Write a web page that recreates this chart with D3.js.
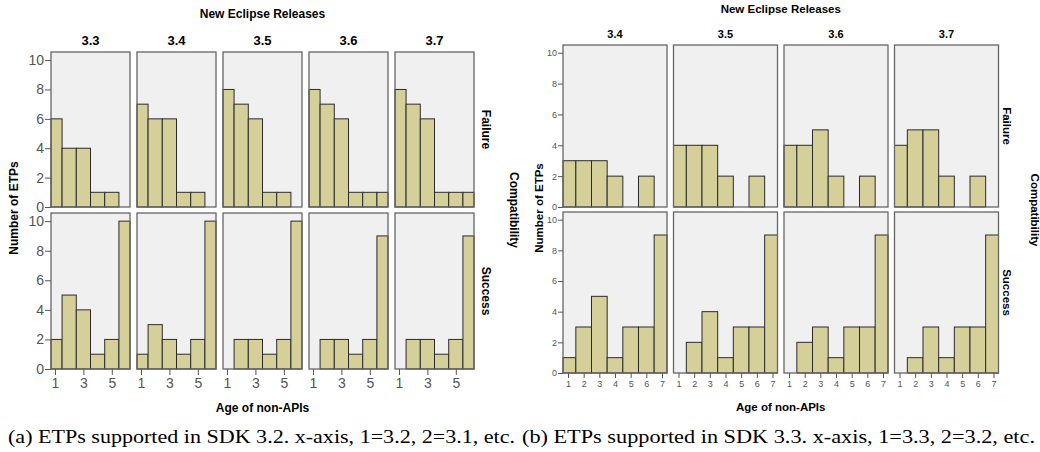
<!DOCTYPE html>
<html>
<head>
<meta charset="utf-8">
<script src="https://cdn.jsdelivr.net/npm/d3@7"></script>
<style>
body { margin: 0; background: #fff; }
text { font-family: "Liberation Sans", Arial, sans-serif; }
</style>
</head>
<body>
<script>
// data
var ageTicksA = [1, 3, 5];
var agesA = [1, 2, 3, 4, 5, 6];
var releasesA = ["3.3", "3.4", "3.5", "3.6", "3.7"];
var failureA = [
	[6, 4, 4, 1, 1, 0],
	[7, 6, 6, 1, 1, 0],
	[8, 7, 6, 1, 1, 0],
	[8, 7, 6, 1, 1, 1],
	[8, 7, 6, 1, 1, 1]
];
var successA = [
	[2, 5, 4, 1, 2, 10],
	[1, 3, 2, 1, 2, 10],
	[0, 2, 2, 1, 2, 10],
	[0, 2, 2, 1, 2, 9],
	[0, 2, 2, 1, 2, 9]
];

var ageTicksB = [1, 2, 3, 4, 5, 6, 7];
var agesB = [1, 2, 3, 4, 5, 6, 7];
var releasesB = ["3.4", "3.5", "3.6", "3.7"];
var failureB = [
	[3, 3, 3, 2, 0, 2, 0],
	[4, 4, 4, 2, 0, 2, 0],
	[4, 4, 5, 2, 0, 2, 0],
	[4, 5, 5, 2, 0, 2, 0]
];
var successB = [
	[1, 3, 5, 1, 3, 3, 9],
	[0, 2, 4, 1, 3, 3, 9],
	[0, 2, 3, 1, 3, 3, 9],
	[0, 1, 3, 1, 3, 3, 9]
];

var countTicks = [0, 2, 4, 6, 8, 10];
var rowNames = ["Failure", "Success"];
var captions = [
	"(a) ETPs supported in SDK 3.2. x-axis, 1=3.2, 2=3.1, etc.",
	"(b) ETPs supported in SDK 3.3. x-axis, 1=3.3, 2=3.2, etc."
];

var svg = d3.select("body").append("svg").attr("width", 1040).attr("height", 452);

function drawChart(c){
	var g = svg.append("g");
	var rows = [c.failure, c.success];

	var x = d3.scaleLinear().domain(c.xDomain).range([0, c.panelW]);

	rows.forEach(function(rowData, r){
		var rt = c.rowTop[r], rb = c.rowBottom[r];
		var y = d3.scaleLinear().domain([0, c.yMax]).range([rb, rt]);

		rowData.forEach(function(counts, col){
			var px = c.left + col * c.step;
			var panel = g.append("g").attr("transform", "translate(" + px + ",0)");

			panel.append("rect")
				.attr("x", 0).attr("y", rt)
				.attr("width", c.panelW).attr("height", rb - rt)
				.style("fill", "#f0f0f0");

			var bins = c.ages.map(function(a, i){ return { age: a, n: counts[i] }; })
				.filter(function(d){ return d.n > 0; });

			panel.selectAll("rect.bar").data(bins).enter().append("rect")
				.attr("class", "bar")
				.attr("x", function(d){ return Math.max(0, x(d.age - 0.5)); })
				.attr("width", function(d){
					return Math.min(c.panelW, x(d.age + 0.5)) - Math.max(0, x(d.age - 0.5));
				})
				.attr("y", function(d){ return y(d.n); })
				.attr("height", function(d){ return y(0) - y(d.n); })
				.style("fill", "#d5d09a")
				.style("stroke", "#2b2b2b")
				.style("stroke-width", 1);

			panel.append("rect")
				.attr("x", 0).attr("y", rt)
				.attr("width", c.panelW).attr("height", rb - rt)
				.style("fill", "none")
				.style("stroke", "#666")
				.style("stroke-width", 1.3);

			if (col === 0){
				var ya = d3.axisLeft(y).tickValues(countTicks).tickFormat(d3.format("d"))
					.tickSize(c.tickLen).tickPadding(1);
				var ag = panel.append("g").call(ya);
				ag.select(".domain").remove();
				ag.selectAll("line").style("stroke", "#555");
				ag.selectAll("text").style("font-size", c.tickFont + "px").style("fill", "#555");
			}
			if (r === 1){
				var xa = d3.axisBottom(x).tickValues(c.ageTicks).tickFormat(d3.format("d"))
					.tickSize(c.tickLen).tickPadding(3);
				var bg = panel.append("g").attr("transform", "translate(0," + rb + ")").call(xa);
				bg.select(".domain").remove();
				bg.selectAll("line").style("stroke", "#555");
				bg.selectAll("text").style("font-size", c.tickFont + "px").style("fill", "#555");
			}
			if (r === 0){
				g.append("text")
					.attr("x", px + c.panelW / 2).attr("y", c.headerY)
					.attr("text-anchor", "middle")
					.style("font-size", c.headerFont + "px").style("font-weight", "bold")
					.text(c.releases[col]);
			}
		});

		g.append("text")
			.attr("transform", "translate(" + c.rowLabelX + "," + (rt + rb) / 2 + ") rotate(90)")
			.attr("text-anchor", "middle")
			.style("font-size", c.labelFont + "px").style("font-weight", "bold")
			.text(rowNames[r]);
	});

	var midX = c.left + ((c.releases.length - 1) * c.step + c.panelW) / 2;

	g.append("text")
		.attr("x", midX).attr("y", c.titleY)
		.attr("text-anchor", "middle")
		.style("font-size", c.labelFont + "px").style("font-weight", "bold")
		.text("New Eclipse Releases");

	g.append("text")
		.attr("x", midX).attr("y", c.xLabelY)
		.attr("text-anchor", "middle")
		.style("font-size", c.labelFont + "px").style("font-weight", "bold")
		.text("Age of non-APIs");

	g.append("text")
		.attr("transform", "translate(" + c.yLabelX + ",208) rotate(-90)")
		.attr("text-anchor", "middle")
		.style("font-size", c.labelFont + "px").style("font-weight", "bold")
		.text("Number of ETPs");

	g.append("text")
		.attr("transform", "translate(" + c.compatX + ",210) rotate(90)")
		.attr("text-anchor", "middle")
		.style("font-size", c.labelFont + "px").style("font-weight", "bold")
		.text("Compatibility");

	svg.append("text")
		.attr("x", c.capX).attr("y", 443)
		.attr("textLength", c.capW).attr("lengthAdjust", "spacingAndGlyphs")
		.style("font-family", "'Liberation Serif', 'Times New Roman', serif")
		.style("font-size", "18px")
		.text(c.caption);
}

drawChart({
	releases: releasesA, ages: agesA, ageTicks: ageTicksA,
	failure: failureA, success: successA,
	left: 51, step: 86, panelW: 79,
	rowTop: [52, 213], rowBottom: [207, 369], yMax: 10.55,
	xDomain: [0.72, 6.28],
	tickLen: 6, tickFont: 14, headerFont: 13, labelFont: 12,
	headerY: 45, titleY: 18, xLabelY: 412,
	rowLabelX: 482, yLabelX: 18, compatX: 510,
	capX: 8, capW: 507, caption: captions[0]
});

drawChart({
	releases: releasesB, ages: agesB, ageTicks: ageTicksB,
	failure: failureB, success: successB,
	left: 563, step: 110.5, panelW: 104,
	rowTop: [45, 212], rowBottom: [207, 373], yMax: 10.5,
	xDomain: [0.68, 7.32],
	tickLen: 5, tickFont: 9, headerFont: 11, labelFont: 11.5,
	headerY: 38, titleY: 13, xLabelY: 411,
	rowLabelX: 1003, yLabelX: 543, compatX: 1031,
	capX: 522, capW: 513, caption: captions[1]
});
</script>
</body>
</html>
